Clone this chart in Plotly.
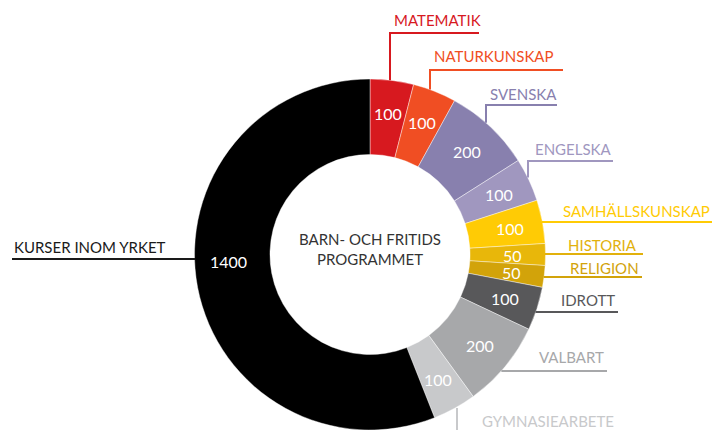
import math
import plotly.graph_objects as go

W, H = 712, 430

# ---- data ----
subjects = ["MATEMATIK", "NATURKUNSKAP", "SVENSKA", "ENGELSKA", "SAMHÄLLSKUNSKAP",
            "HISTORIA", "RELIGION", "IDROTT", "VALBART", "GYMNASIEARBETE",
            "KURSER INOM YRKET"]
points = [100, 100, 200, 100, 100, 50, 50, 100, 200, 100, 1400]
colors = ["#D7191F", "#F04E23", "#8880AE", "#A097BF", "#FFCB05",
          "#E8B70A", "#D2A30A", "#58585A", "#A7A8AA", "#C8C9CB", "#000000"]
label_colors = ["#D7191F", "#F04E23", "#8880AE", "#A097BF", "#FFCB05",
                "#E2B10C", "#D2A30A", "#58585A", "#A7A8AA", "#C8C9CB", "#1A1A1A"]
center_title = "BARN- OCH FRITIDS<br>PROGRAMMET"

# ---- geometry (pixels) ----
cx, cy, R = 370, 255, 176
HOLE = 0.57
dom_x = [(cx - R) / W, (cx + R) / W]
dom_y = [0, (H - cy + R) / H]

FONT = "Lato, 'Open Sans', sans-serif"

fig = go.Figure(go.Pie(
    labels=subjects, values=points, sort=False, direction="clockwise", rotation=0,
    hole=HOLE, marker=dict(colors=colors, line=dict(color="rgba(255,255,255,0.6)", width=0.7)),
    textinfo="none",
    domain=dict(x=dom_x, y=dom_y), showlegend=False, hoverinfo="label+value",
))

def px(x):
    return x / W

def py(y):
    return 1 - y / H

shapes = []
annotations = []

# value labels placed at the middle of each slice (angles from the data)
total = sum(points)
label_r = R * (1 + HOLE) / 2 + 4
angle_shift = [0] * (len(points) - 1) + [8]   # big slice label sits a bit higher
acc = 0
for v, sh in zip(points, angle_shift):
    mid = (acc + v / 2) / total * 360 + sh
    acc += v
    a = math.radians(mid)
    x = cx + label_r * math.sin(a)
    y = cy - label_r * math.cos(a)
    annotations.append(dict(text=str(v), x=px(x), y=py(y), xref="paper", yref="paper",
                            xanchor="center", yanchor="middle", showarrow=False,
                            font=dict(family=FONT, size=16, color="white")))

# callout layout: (kind, fixed coordinate, end coordinate, text_x, text_y)
callouts = [
    ("v_up", 390, 33, 392, 20),
    ("v_up", 430, 70, 432, 56),
    ("v_up", 486, 105, 488, 94),
    ("v_up", 528, 161, 533, 149),
    ("h_right", 222, 712, 561, 211),
    ("h_right", 254, 643, 566, 245),
    ("h_right", 277, 642, 568, 268),
    ("h_right", 312, 618, 559, 300),
    ("h_right", 371, 607, 537, 357),
    ("v_down", 457, 432, 480, 421),
    ("h_left", 259, 12, 12, 247),
]
top_ends = {"MATEMATIK": 479, "NATURKUNSKAP": 563, "SVENSKA": 557, "ENGELSKA": 613}

def line(x0, y0, x1, y1, col):
    shapes.append(dict(type="line", xref="paper", yref="paper",
                       x0=px(x0), y0=py(y0), x1=px(x1), y1=py(y1),
                       line=dict(color=col, width=2)))

for name, col, (kind, fixed, end, tx, ty) in zip(subjects, label_colors, callouts):
    if kind == "v_up":
        y0 = cy - math.sqrt(R * R - (fixed - cx) ** 2)
        line(fixed, y0, fixed, end, col)
        line(fixed - 1, end, top_ends[name], end, col)
    elif kind == "v_down":
        y0 = cy + math.sqrt(R * R - (fixed - cx) ** 2)
        line(fixed, y0, fixed, end, col)
    elif kind == "h_right":
        x0 = cx + math.sqrt(R * R - (fixed - cy) ** 2)
        line(x0 - 1, fixed, end, fixed, col)
    elif kind == "h_left":
        x0 = cx - math.sqrt(R * R - (fixed - cy) ** 2)
        line(x0 + 1, fixed, end, fixed, col)
    annotations.append(dict(text=name, x=px(tx), y=py(ty), xref="paper", yref="paper",
                            xanchor="left", yanchor="middle", showarrow=False,
                            font=dict(family=FONT, size=15, color=col)))

annotations.append(dict(text=center_title, x=px(cx), y=py(cy - 6), xref="paper", yref="paper",
                        xanchor="center", yanchor="middle", showarrow=False,
                        font=dict(family=FONT, size=15, color="#333333")))

fig.update_layout(width=W, height=H, margin=dict(l=0, r=0, t=0, b=0),
                  paper_bgcolor="white", plot_bgcolor="white",
                  shapes=shapes, annotations=annotations)

fig.write_html("out.html")
